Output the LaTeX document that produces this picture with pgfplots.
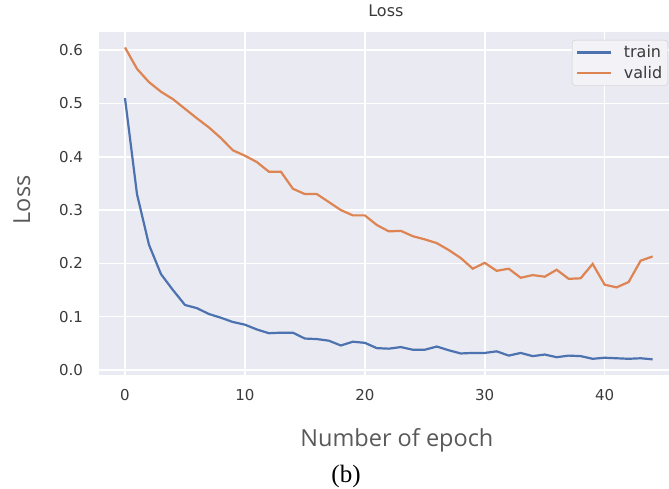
\documentclass[border=0pt]{standalone}
\usepackage{fontspec}
\setmainfont{DejaVu Sans}
\newfontfamily\labelfont{Open Sans}
\newfontfamily\capfont{Liberation Serif}
\usepackage{pgfplots}
\pgfplotsset{compat=1.18}
\definecolor{sbbg}{HTML}{EAEAF2}
\definecolor{sbblue}{HTML}{4C72B0}
\definecolor{sborange}{HTML}{DD8452}
\definecolor{ticktext}{HTML}{3A3A3A}
\definecolor{labeltext}{HTML}{595959}
\begin{document}
\begin{tikzpicture}[x=1pt,y=1pt]
\begin{axis}[
  at={(98.6pt,114.2pt)}, anchor=south west,
  scale only axis,
  width=580.4pt, height=342.8pt,
  xmin=-2.2, xmax=46.2,
  ymin=-0.009, ymax=0.634,
  xtick={0,10,20,30,40},
  ytick={0,0.1,0.2,0.3,0.4,0.5,0.6},
  /pgf/number format/assume math mode=true,
  axis background/.style={fill=sbbg},
  axis line style={draw=none},
  major tick length=0pt,
  grid=major,
  major grid style={white, line width=1.6pt},
  ticklabel style={font=\fontsize{15}{18}\selectfont, text=ticktext, inner sep=0pt},
  xticklabel style={anchor=base, yshift=-26pt},
  yticklabel style={anchor=east, xshift=-15.5pt,
    /pgf/number format/fixed, /pgf/number format/fixed zerofill,
    /pgf/number format/precision=1},
  title={Loss},
  title style={font=\fontsize{16}{19}\selectfont, text=ticktext, anchor=base,
    at={(axis description cs:0.495,1.029)}, inner sep=0pt},
  xlabel={Number of epoch},
  xlabel style={font=\labelfont\fontsize{23.5}{28}\selectfont, text=labeltext, anchor=base,
    at={(axis description cs:0.514,-0.2106)}, inner sep=0pt},
  ylabel={Loss},
  ylabel style={font=\labelfont\fontsize{23.5}{28}\selectfont, text=labeltext, anchor=base,
    at={(axis description cs:-0.118,0.51)}, rotate=0, inner sep=0pt},
  legend style={at={(axis description cs:0.8156,0.9767)}, anchor=north west,
    fill=sbbg!60!white, draw=black!20, rounded corners=3pt,
    font=\fontsize{16}{19}\selectfont, text=ticktext,
    inner xsep=4pt, inner ysep=4pt, row sep=4pt,
    nodes={inner sep=1.5pt}},
  legend cell align=left,
  legend image code/.code={\draw[#1, line width=2.2pt] (0pt,0pt) -- (34pt,0pt); \path (44pt,0pt);},
  clip=true,
]
\addplot[sbblue, line width=2.2pt] coordinates {
(0,0.510) (1,0.330) (2,0.235) (3,0.180) (4,0.150) (5,0.122) (6,0.116) (7,0.105)
(8,0.098) (9,0.090) (10,0.085) (11,0.076) (12,0.069) (13,0.070) (14,0.070)
(15,0.059) (16,0.058) (17,0.055) (18,0.046) (19,0.053) (20,0.051) (21,0.041)
(22,0.040) (23,0.043) (24,0.038) (25,0.038) (26,0.044) (27,0.037) (28,0.031)
(29,0.032) (30,0.032) (31,0.035) (32,0.027) (33,0.032) (34,0.026) (35,0.029)
(36,0.024) (37,0.027) (38,0.026) (39,0.021) (40,0.023) (41,0.022) (42,0.021)
(43,0.022) (44,0.020)
};
\addlegendentry{train}
\addplot[sborange, line width=2.2pt] coordinates {
(0,0.605) (1,0.565) (2,0.540) (3,0.522) (4,0.508) (5,0.490) (6,0.472) (7,0.455)
(8,0.435) (9,0.412) (10,0.402) (11,0.390) (12,0.372) (13,0.372) (14,0.340)
(15,0.330) (16,0.330) (17,0.315) (18,0.300) (19,0.290) (20,0.290) (21,0.272)
(22,0.260) (23,0.261) (24,0.251) (25,0.245) (26,0.238) (27,0.225) (28,0.210)
(29,0.190) (30,0.201) (31,0.186) (32,0.190) (33,0.173) (34,0.178) (35,0.175)
(36,0.188) (37,0.171) (38,0.172) (39,0.199) (40,0.160) (41,0.155) (42,0.165)
(43,0.205) (44,0.213)
};
\addlegendentry{valid}
\end{axis}
\node[font=\capfont\fontsize{25}{29}\selectfont, anchor=base, inner sep=0pt] at (346pt,6pt) {(b)};
\pgfresetboundingbox
\useasboundingbox (0,0) rectangle (669pt,489pt);
\end{tikzpicture}
\end{document}
